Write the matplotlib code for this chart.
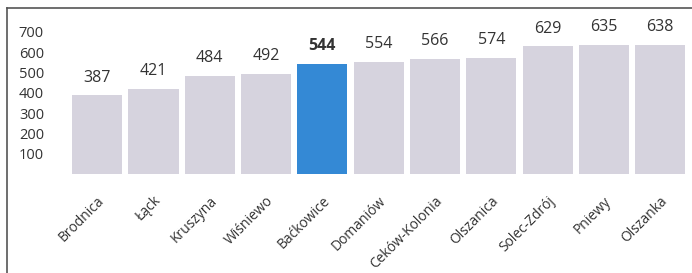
import matplotlib.pyplot as plt
from matplotlib.lines import Line2D

places = ['Brodnica', 'Łąck', 'Kruszyna', 'Wiśniewo', 'Baćkowice', 'Domaniów',
          'Ceków-Kolonia', 'Olszanica', 'Solec-Zdrój', 'Pniewy', 'Olszanka']
values = [387, 421, 484, 492, 544, 554, 566, 574, 629, 635, 638]
highlight = 'Baćkowice'
yticks = [100, 200, 300, 400, 500, 600, 700]

plt.rcParams['font.family'] = ['Open Sans', 'DejaVu Sans']

fig = plt.figure(figsize=(6.92, 2.73), dpi=100)
ax = fig.add_axes([0.0997, 0.3626, 0.895, 0.5204])
ax.set_frame_on(False)

grey = '#d6d3de'
blue = '#3489d5'
colors = [blue if p == highlight else grey for p in places]
x = list(range(len(places)))
ax.bar(x, values, width=0.89, color=colors, linewidth=0)

for xi, v, p in zip(x, values, places):
    ax.annotate(str(v), (xi, v), xytext=(0, 7), textcoords='offset points',
                ha='center', va='bottom', fontsize=11.5, color='#333333',
                fontweight='bold' if p == highlight else 'normal')

ax.set_xlim(-0.5, len(places) - 0.5)
ax.set_ylim(0, 700)
ax.set_yticks(yticks)
ax.set_xticks(x)
ax.set_xticklabels(places, rotation=45, ha='right', rotation_mode='anchor',
                   fontsize=10, color='#333333')
ax.tick_params(axis='y', length=0, pad=18, labelsize=10.5, labelcolor='#333333')
ax.tick_params(axis='x', length=0, pad=14)

# frame lines on left and top of the picture
fig.add_artist(Line2D([7 / 692, 7 / 692], [0, 1 - 8 / 273], color='#555555', lw=1.2))
fig.add_artist(Line2D([7 / 692, 1], [1 - 8 / 273, 1 - 8 / 273], color='#555555', lw=1.2))

fig.savefig('out.png', dpi=100)
